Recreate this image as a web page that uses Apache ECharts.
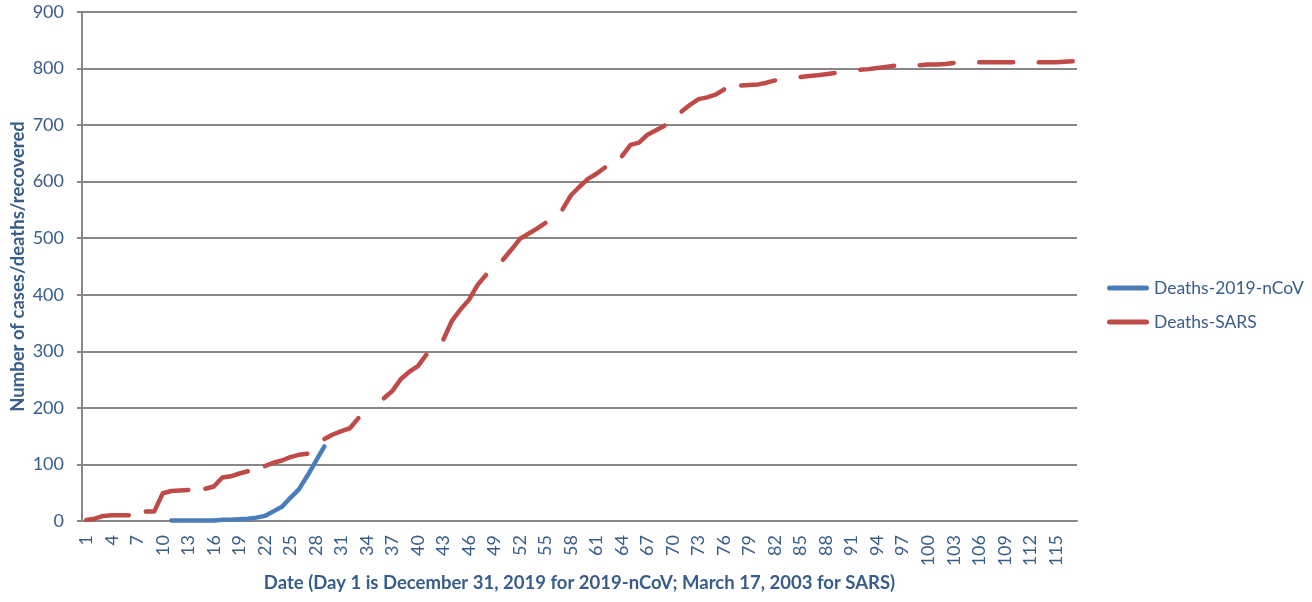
<!DOCTYPE html>
<html>
<head>
<meta charset="utf-8">
<script src="https://cdn.jsdelivr.net/npm/echarts@6/dist/echarts.min.js"></script>
<style>
html,body{margin:0;padding:0;background:#fff;}
#chart{width:1312px;height:602px;}
</style>
</head>
<body>
<div id="chart"></div>
<script>
// Day numbers 1..117
const days = [];
for (let d = 1; d <= 117; d++) days.push(String(d));

// Deaths-2019-nCoV (days 11..29)
const ncovStartDay = 11;
const ncovValues = [1, 1, 1, 1, 1, 1, 2, 2, 3, 4, 6, 9, 17, 25, 41, 56, 80, 106, 132];

// Deaths-SARS (day 1..117, null = not reported)
const sarsValues = [
  2, 4, 9, 10, 10, 10, null, 17, 17, 49,
  53, 54, 55, null, 57, 61, 77, 79, 84, 88,
  null, 97, 103, 107, 113, 117, 119, null, 145, 153,
  159, 164, 182, null, null, 217, 230, 251, 264, 274,
  294, null, 321, 354, 374, 391, 417, 435, null, 462,
  480, 499, 508, 517, 527, null, 551, 576, 591, 605,
  614, 625, null, 645, 665, 669, 683, 691, 699, null,
  724, 736, 746, 749, 754, 763, null, 770, 771, 772,
  775, 779, null, null, 785, 787, 788, 790, 792, null,
  null, 798, 799, 801, 803, 805, null, null, 806, 807,
  807, 808, 810, null, null, 811, 811, 811, 811, 811,
  null, null, 811, 811, 811, 812, 813
];

const yTicks = { min: 0, max: 900, interval: 100 };

const ncovData = days.map((d, i) => {
  const k = i + 1 - ncovStartDay;
  return (k >= 0 && k < ncovValues.length) ? ncovValues[k] : null;
});

const txt = '#385D8A';
const font = 'Lato, "Open Sans", sans-serif';
const capsule = 'path://M2.5,0 L39.5,0 A2.5,2.5 0 0 1 39.5,5 L2.5,5 A2.5,2.5 0 0 1 2.5,0 Z';
const chart = echarts.init(document.getElementById('chart'), null, {renderer: 'canvas'});
chart.setOption({
  animation: false,
  backgroundColor: '#ffffff',
  textStyle: { fontFamily: font },
  grid: { left: 82, right: 235, top: 12, bottom: 81, containLabel: false, outerBoundsMode: 'none' },
  legend: {
    orient: 'vertical',
    left: 1102,
    top: 274,
    itemWidth: 42,
    itemHeight: 5,
    itemGap: 16,
    icon: capsule,
    textStyle: { color: txt, fontSize: 17.5, fontFamily: font },
    data: ['Deaths-2019-nCoV', 'Deaths-SARS']
  },
  xAxis: {
    type: 'category',
    data: days,
    boundaryGap: true,
    name: 'Date (Day 1 is December 31, 2019 for 2019-nCoV; March 17, 2003 for SARS)',
    nameLocation: 'middle',
    nameGap: 53,
    nameMoveOverlap: false,
    nameTextStyle: { color: txt, fontSize: 18.5, fontWeight: 'bold', fontFamily: font },
    axisLine: { show: true, lineStyle: { color: '#878787', width: 2 } },
    axisTick: { show: false },
    axisLabel: { interval: 2, rotate: 90, color: txt, fontSize: 18, margin: 14, fontFamily: font },
    splitLine: { show: false }
  },
  yAxis: {
    type: 'value',
    min: yTicks.min,
    max: yTicks.max,
    interval: yTicks.interval,
    name: 'Number of cases/deaths/recovered',
    nameLocation: 'middle',
    nameGap: 54,
    nameMoveOverlap: false,
    nameTextStyle: { color: txt, fontSize: 18.5, fontWeight: 'bold', fontFamily: font },
    axisLine: { show: true, lineStyle: { color: '#878787', width: 2 } },
    axisTick: { show: true, inside: false, length: 5, lineStyle: { color: '#878787', width: 2 } },
    axisLabel: { color: txt, fontSize: 18, margin: 18, fontFamily: font },
    splitLine: { show: true, lineStyle: { color: '#878787', width: 2 } }
  },
  series: [
    {
      name: 'Deaths-2019-nCoV',
      type: 'line',
      data: ncovData,
      symbol: 'none',
      connectNulls: false,
      color: '#4A7EBB',
      lineStyle: { color: '#4A7EBB', width: 4.5, cap: 'round', join: 'round' },
      z: 3
    },
    {
      name: 'Deaths-SARS',
      type: 'line',
      data: sarsValues,
      symbol: 'none',
      connectNulls: false,
      color: '#BE4B48',
      lineStyle: { color: '#BE4B48', width: 4.5, cap: 'round', join: 'round' },
      z: 2
    }
  ]
});
</script>
</body>
</html>
